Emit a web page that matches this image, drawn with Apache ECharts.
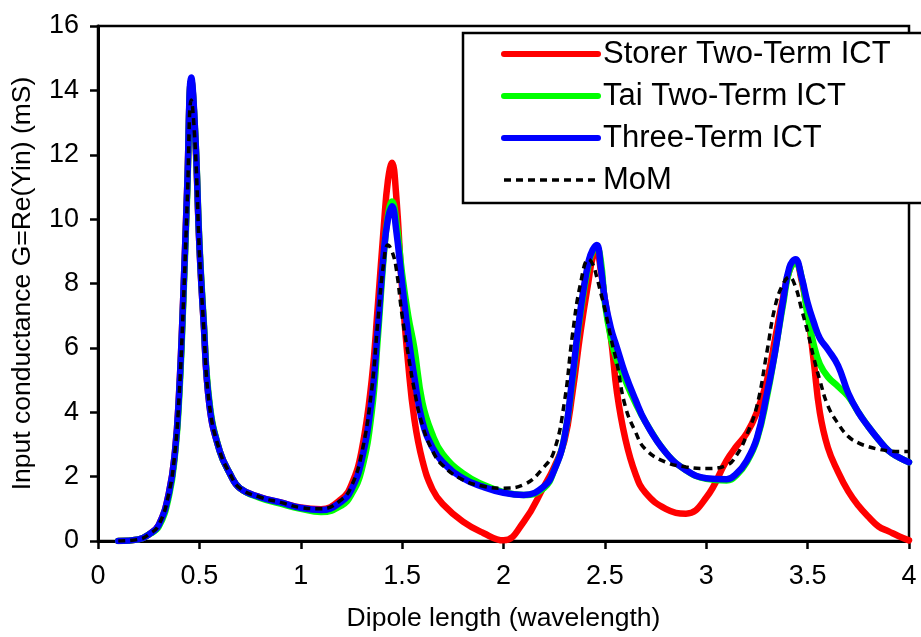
<!DOCTYPE html>
<html>
<head>
<meta charset="utf-8">
<script src="https://cdn.jsdelivr.net/npm/echarts@6/dist/echarts.min.js"></script>
<style>
html,body{margin:0;padding:0;background:#fff;}
#chart{width:921px;height:637px;}
</style>
</head>
<body>
<div id="chart"></div>
<script>
// Dipole length (wavelength) sample positions
const xs = [0.1,0.2,0.25,0.3,0.35,0.38,0.4,0.42,0.44,0.46,0.48,0.5,0.52,0.55,0.6,0.65,0.7,0.8,0.9,1.0,
  1.1,1.2,1.25,1.3,1.35,1.38,1.41,1.43,1.45,1.47,1.5,1.53,1.56,1.6,1.65,1.7,1.8,1.9,2.0,
  2.1,2.2,2.25,2.3,2.34,2.38,2.42,2.44,2.46,2.48,2.5,2.53,2.56,2.6,2.65,2.7,2.8,2.9,3.0,
  3.1,3.15,3.2,3.25,3.3,3.34,3.38,3.41,3.44,3.47,3.5,3.53,3.56,3.6,3.65,3.7,3.75,3.8,3.85,3.9,3.95,4.0];

const storer = [0.0,0.05,0.2,0.5,1.5,2.8,4.6,7.5,11.0,14.3,12.5,9.2,6.9,4.2,2.8,2.1,1.64,1.36,1.2,1.04,
  0.99,1.3,1.75,2.8,5.0,7.3,9.8,11.2,11.75,10.8,7.8,5.5,3.8,2.5,1.6,1.15,0.6,0.25,0.02,
  0.6,1.7,2.3,3.1,4.6,6.5,8.1,8.8,8.95,8.4,7.5,6.3,4.6,3.2,2.1,1.5,1.0,0.85,1.35,
  2.5,2.95,3.35,4.0,5.0,6.3,7.6,8.4,8.7,8.1,7.1,5.6,4.0,2.9,2.15,1.55,1.1,0.75,0.45,0.3,0.15,0.02];

const tai = [0.0,0.05,0.2,0.45,1.4,2.7,4.4,7.3,10.8,14.3,12.6,9.3,7.0,4.3,2.8,2.1,1.64,1.34,1.16,1.0,
  0.9,1.1,1.45,2.2,4.0,6.3,8.9,10.1,10.55,10.0,8.3,7.0,6.0,4.3,3.3,2.7,2.1,1.75,1.52,
  1.43,1.65,2.2,3.2,5.0,7.1,8.6,9.0,9.1,8.7,7.4,6.3,5.6,5.0,4.3,3.7,2.75,2.2,1.93,
  1.88,2.05,2.45,3.15,4.5,5.9,7.4,8.4,8.65,8.2,7.0,6.1,5.5,5.1,4.8,4.5,4.0,3.55,3.15,2.8,2.6,2.45];

const threeTerm = [0.0,0.05,0.2,0.5,1.5,2.8,4.6,7.5,11.0,14.4,12.6,9.2,6.9,4.2,2.8,2.1,1.64,1.36,1.2,1.03,
  0.96,1.22,1.6,2.5,4.4,6.6,9.0,10.0,10.4,9.7,8.0,6.4,5.1,3.7,2.9,2.45,1.95,1.68,1.5,
  1.43,1.7,2.2,3.2,5.1,7.2,8.7,9.05,9.2,8.5,7.5,6.6,6.0,5.2,4.4,3.7,2.75,2.2,1.95,
  1.92,2.1,2.5,3.2,4.6,5.9,7.5,8.5,8.75,8.2,7.4,6.8,6.3,5.95,5.45,4.6,4.0,3.55,3.15,2.8,2.6,2.45];

const mom = [0.0,0.05,0.2,0.5,1.5,2.8,4.5,7.2,10.5,13.7,12.2,9.0,6.8,4.2,2.8,2.1,1.64,1.36,1.2,1.04,
  1.0,1.28,1.7,2.7,4.7,6.8,8.7,9.2,9.0,8.5,7.0,5.8,4.7,3.6,2.8,2.35,1.9,1.7,1.64,
  1.75,2.3,2.8,4.3,6.4,8.0,8.75,8.6,8.2,7.7,7.2,6.3,5.5,4.2,3.4,2.85,2.45,2.3,2.25,
  2.35,2.67,3.3,4.2,5.9,7.3,8.0,8.2,7.9,7.2,6.5,5.7,5.0,4.2,3.65,3.25,3.05,2.93,2.85,2.8,2.78,2.78];

const xTicks = {min: 0, max: 4, step: 0.5};
const yTicks = {min: 0, max: 16, step: 2};
const seriesNames = ['Storer Two-Term ICT','Tai Two-Term ICT','Three-Term ICT','MoM'];

const pair = arr => xs.map((x, i) => [x, arr[i]]);
const FONT = "'Liberation Sans', Arial, sans-serif";

const chart = echarts.init(document.getElementById('chart'), null, {renderer: 'canvas'});
chart.setOption({
  animation: false,
  backgroundColor: '#fff',
  grid: {left: 98, right: 12, top: 26, bottom: 94, show: true, borderColor: '#000', borderWidth: 2.5, backgroundColor: 'transparent'},
  xAxis: {
    type: 'value', min: xTicks.min, max: xTicks.max, interval: xTicks.step,
    name: 'Dipole length (wavelength)', nameLocation: 'middle', nameGap: 64,
    nameTextStyle: {fontFamily: FONT, fontSize: 26.5, color: '#000'},
    axisLine: {lineStyle: {color: '#000', width: 3}},
    axisTick: {inside: false, length: 8, lineStyle: {color: '#000', width: 2.5}},
    axisLabel: {fontFamily: FONT, fontSize: 27, color: '#000', margin: 22},
    splitLine: {show: false}
  },
  yAxis: {
    type: 'value', min: yTicks.min, max: yTicks.max, interval: yTicks.step,
    name: 'Input conductance G=Re(Yin) (mS)', nameLocation: 'middle', nameGap: 62,
    nameTextStyle: {fontFamily: FONT, fontSize: 26.5, color: '#000'},
    axisLine: {lineStyle: {color: '#000', width: 3}},
    axisTick: {inside: false, length: 8, lineStyle: {color: '#000', width: 2.5}},
    axisLabel: {fontFamily: FONT, fontSize: 27, color: '#000', margin: 19},
    splitLine: {show: false}
  },
  legend: {
    orient: 'vertical', left: 463, top: 33,
    data: [
      {name: seriesNames[0], lineStyle: {width: 6}},
      {name: seriesNames[1], lineStyle: {width: 6}},
      {name: seriesNames[2], lineStyle: {width: 6}},
      {name: seriesNames[3], lineStyle: {width: 3.5}}
    ],
    itemWidth: 94, itemHeight: 14, itemGap: 8,
    itemStyle: {opacity: 0},
    padding: [4, 80, 6, 38],
    backgroundColor: '#fff', borderColor: '#000', borderWidth: 2.5, borderRadius: 0,
    textStyle: {fontFamily: FONT, fontSize: 31, color: '#000', lineHeight: 34, padding: [0,0,0,0]},
    selectedMode: false
  },
  series: [
    {name: seriesNames[0], type: 'line', data: pair(storer), smooth: 0.45, symbol: 'none', z: 2,
     lineStyle: {color: '#ff0000', width: 6.5, cap: 'round', join: 'round'}, itemStyle: {color: '#ff0000'}},
    {name: seriesNames[1], type: 'line', data: pair(tai), smooth: 0.45, symbol: 'none', z: 3,
     lineStyle: {color: '#00ff00', width: 6.5, cap: 'round', join: 'round'}, itemStyle: {color: '#00ff00'}},
    {name: seriesNames[2], type: 'line', data: pair(threeTerm), smooth: 0.45, symbol: 'none', z: 4,
     lineStyle: {color: '#0000ff', width: 6.5, cap: 'round', join: 'round'}, itemStyle: {color: '#0000ff'}},
    {name: seriesNames[3], type: 'line', data: pair(mom), smooth: 0.45, symbol: 'none', z: 5,
     lineStyle: {color: '#000', width: 3.5, type: [7, 5]}, itemStyle: {color: '#000'}}
  ]
});
</script>
</body>
</html>
